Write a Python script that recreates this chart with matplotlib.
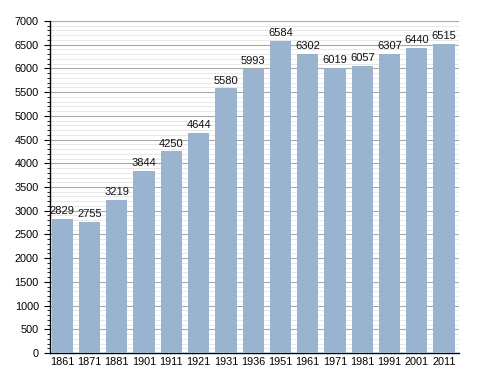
import matplotlib
matplotlib.use("Agg")
import matplotlib.pyplot as plt
from matplotlib.ticker import MultipleLocator

years = ["1861", "1871", "1881", "1901", "1911", "1921", "1931", "1936",
         "1951", "1961", "1971", "1981", "1991", "2001", "2011"]
population = [2829, 2755, 3219, 3844, 4250, 4644, 5580, 5993,
              6584, 6302, 6019, 6057, 6307, 6440, 6515]

plt.rcParams['font.family'] = ['Liberation Sans', 'DejaVu Sans']

fig = plt.figure(figsize=(4.88, 3.73), dpi=100)
ax = fig.add_axes([50/488, 20/373, 409/488, 332/373])

x = list(range(len(years)))
ax.bar(x, population, width=0.78, color="#9ab3cf", zorder=3)
for xi, v in zip(x, population):
    ax.text(xi, v + 60, str(v), ha="center", va="bottom", fontsize=8, color="#111111", zorder=4)

ax.set_xlim(-0.45, 14.55)
ax.set_ylim(0, 7000)
ax.set_xticks(x)
ax.set_xticklabels(years, fontsize=7.8)
ax.yaxis.set_major_locator(MultipleLocator(500))
ax.yaxis.set_minor_locator(MultipleLocator(100))
ax.tick_params(axis="y", which="major", labelsize=7.8, length=4, width=0.8, direction="out", pad=4)
ax.tick_params(axis="y", which="minor", length=2, width=0.6, direction="out")
ax.tick_params(axis="x", length=0, pad=3)

ax.grid(axis="y", which="major", color="#a8a8a8", linewidth=0.8, zorder=0)
ax.grid(axis="y", which="minor", color="#e4e4e4", linewidth=0.6, zorder=0)

for s in ["top", "right"]:
    ax.spines[s].set_visible(False)
ax.spines["left"].set_linewidth(1.0)
ax.spines["bottom"].set_linewidth(1.0)

fig.savefig("out.png", dpi=100, facecolor="white")
